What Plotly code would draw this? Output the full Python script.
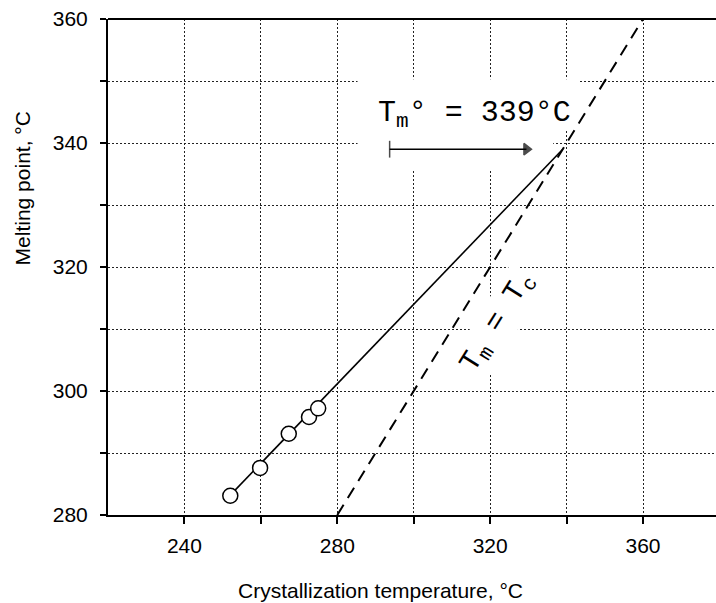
import plotly.graph_objects as go

# ---- data ----
tc_points = [252.0, 259.8, 267.3, 272.6, 275.0]      # crystallization temperature, °C
tm_points = [283.1, 287.6, 293.1, 295.8, 297.2]      # melting point, °C
fit_tc = [252.0, 339.0]                               # extrapolated fit line
fit_tm = [283.2, 339.0]
eq_tc = [280.0, 360.0]                                # Tm = Tc line
eq_tm = [280.0, 360.0]
tm0 = 339.0
arrow_tc = [293.7, 329.5]                             # arrow towards Tm°

x_tickvals = [240, 280, 320, 360]
x_ticktext = ["240", "280", "320", "360"]
x_minorvals = [260, 300, 340]
y_tickvals = [280, 300, 320, 340, 360]
y_ticktext = ["280", "300", "320", "340", "360"]
y_minorvals = [290, 310, 330, 350]

fig = go.Figure()
fig.add_trace(go.Scatter(x=eq_tc, y=eq_tm, mode="lines",
                         line=dict(color="black", width=2, dash="12px,8px"),
                         showlegend=False, hoverinfo="skip"))
fig.add_trace(go.Scatter(x=fit_tc, y=fit_tm, mode="lines",
                         line=dict(color="black", width=1.6),
                         showlegend=False, hoverinfo="skip"))
fig.add_trace(go.Scatter(x=tc_points, y=tm_points, mode="markers",
                         marker=dict(symbol="circle", size=15, color="white",
                                     line=dict(color="black", width=1.5)),
                         showlegend=False))
fig.add_trace(go.Scatter(x=arrow_tc, y=[tm0, tm0], mode="lines+markers",
                         line=dict(color="black", width=1.5),
                         marker=dict(symbol=["line-ns", "triangle-right"], size=[12, 10],
                                     color="black", line=dict(color="black", width=1.5)),
                         showlegend=False, hoverinfo="skip"))

tick_font = dict(family="Liberation Sans, Arial, sans-serif", size=21, color="black")
mono = "Liberation Mono, Courier New, monospace"
grid = dict(showgrid=True, gridcolor="#222", gridwidth=1.3, griddash="2px,2px")

fig.update_layout(
    width=716, height=603,
    margin=dict(l=108, r=0, t=19, b=88),
    paper_bgcolor="white", plot_bgcolor="white",
    xaxis=dict(range=[220, 379.1], tickmode="array", tickvals=x_tickvals, ticktext=x_ticktext,
               ticks="outside", ticklen=7, tickwidth=1.5, tickcolor="black",
               minor=dict(tickmode="array", tickvals=x_minorvals, ticks="outside", ticklen=7,
                          tickwidth=1.5, tickcolor="black", **grid),
               showline=True, linecolor="black", linewidth=2,
               zeroline=False, tickfont=tick_font, ticklabelstandoff=4, **grid),
    yaxis=dict(range=[280, 360], tickmode="array", tickvals=y_tickvals, ticktext=y_ticktext,
               ticks="outside", ticklen=6, tickwidth=1.5, tickcolor="black",
               minor=dict(tickmode="array", tickvals=y_minorvals, ticks="outside", ticklen=6,
                          tickwidth=1.5, tickcolor="black", **grid),
               showline=True, linecolor="black", linewidth=2,
               zeroline=False, tickfont=tick_font, ticklabelstandoff=8, **grid),
)

# white boxes behind the annotation text (cover grid, under traces)
fig.add_shape(type="rect", xref="x", yref="y", x0=285.3, x1=343.5, y0=342.0, y1=350.3,
              fillcolor="white", line=dict(width=0), layer="between")
fig.add_shape(type="rect", xref="x", yref="y", x0=285.3, x1=336.5, y0=335.6, y1=342.0,
              fillcolor="white", line=dict(width=0), layer="between")
# top border
fig.add_shape(type="line", xref="paper", yref="paper", x0=0, x1=1, y0=1, y1=1,
              line=dict(color="black", width=2))

fig.add_annotation(x=316.0, y=344.6, xref="x", yref="y", showarrow=False,
                   text="T<sub>m</sub>° = 339°C", font=dict(family=mono, size=30, color="black"))
fig.add_annotation(x=322.1, y=310.9, xref="x", yref="y", showarrow=False, textangle=-58,
                   text="T<sub>m</sub> = T<sub>c</sub>", bgcolor="white", borderpad=2,
                   font=dict(family=mono, size=29, color="black"))

title_font = dict(family="Liberation Sans, Arial, sans-serif", size=21, color="black")
fig.add_annotation(x=0.449, y=-0.153, xref="paper", yref="paper", showarrow=False,
                   xanchor="center", yanchor="middle",
                   text="Crystallization temperature, °C", font=title_font)
fig.add_annotation(x=-0.141, y=0.659, xref="paper", yref="paper", showarrow=False,
                   xanchor="center", yanchor="middle",
                   textangle=-90, text="Melting point, °C", font=title_font)

fig.write_html("out.html")
